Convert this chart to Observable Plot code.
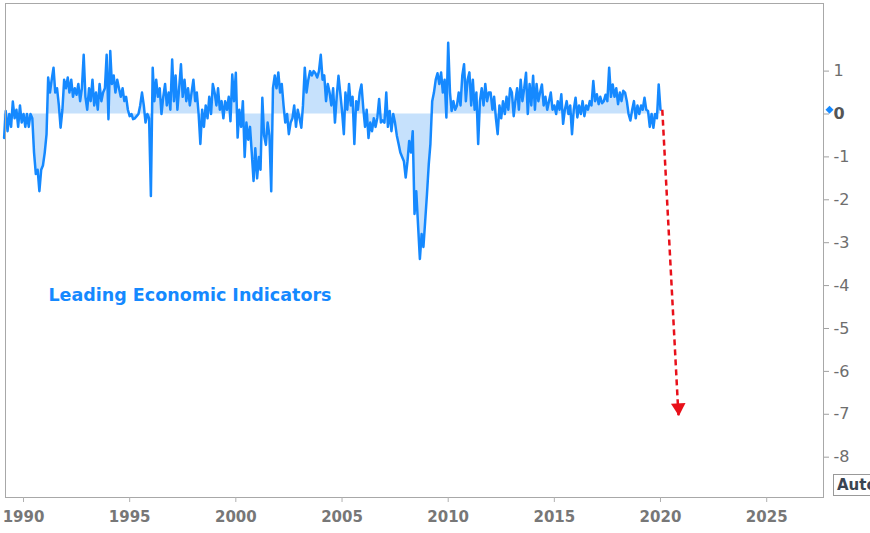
<!DOCTYPE html>
<html>
<head>
<meta charset="utf-8">
<script src="https://cdn.jsdelivr.net/npm/d3@7"></script>
<script src="https://cdn.jsdelivr.net/npm/@observablehq/plot@0.6"></script>
<style>
  body { margin: 0; background: #fff; }
  #wrap { position: relative; width: 870px; height: 533px; overflow: hidden; }
  #auto { position: absolute; left: 833px; top: 474px; border: 1px solid #999; font: bold 15px "DejaVu Sans", sans-serif; color: #3a4452; padding: 1px 3px; background: #fff; white-space: nowrap; }
</style>
</head>
<body>
<div id="wrap"></div>
<script>
// Monthly values starting February 1989
const startYear = 1989;
const startMonth = 1; // 0-based: February
const leiValues = [
  /*1989*/ -0.56, 0.07, -0.4, 0.0, -0.3, 0.29, -0.1, 0.1, -0.3, 0.2, -0.2,
  /*1990*/ 0.0, -0.3, 0.0, -0.3, 0.0, -0.1, -0.9, -1.4, -1.3, -1.8, -1.3, -1.2,
  /*1991*/ -0.9, -0.47, 0.85, 0.5, 0.8, 1.08, 0.5, 0.6, 0.2, -0.32, 0.1, 0.8,
  /*1992*/ 0.6, 0.85, 0.5, 0.8, 0.4, 0.6, 0.45, 0.7, 0.3, 0.6, 1.38, 0.4,
  /*1993*/ 0.1, 0.6, 0.3, 0.8, 0.2, 0.5, 0.1, 0.7, 0.3, 0.5, 0.6, 1.38,
  /*1994*/ -0.12, 1.47, 0.7, 0.9, 0.5, 0.8, 0.6, 0.4, 0.6, 0.3, 0.4, 0.1,
  /*1995*/ -0.05, 0.0, -0.12, -0.1, -0.05, 0.0, 0.2, 0.5, 0.2, -0.2, 0.0, -0.1,
  /*1996*/ -1.91, 1.08, 0.3, 0.8, 0.4, 0.6, 0.0, 0.4, 0.7, 0.2, 0.5, 0.1,
  /*1997*/ 1.27, 0.3, 0.9, 0.1, 0.6, 1.16, 0.4, 0.8, 0.3, 0.6, 0.2, 0.5,
  /*1998*/ 0.8, 0.3, 0.5, 0.0, -0.7, 0.1, -0.3, 0.2, -0.1, 0.4, 0.0, 0.7,
  /*1999*/ 0.5, 0.2, 0.6, 0.1, 0.3, -0.1, 0.3, 0.1, 0.4, -0.17, 0.92, 0.3,
  /*2000*/ 0.96, -0.55, 0.1, -0.3, 0.3, -1.0, -0.2, -0.6, -0.3, -0.9, -1.56, -0.8,
  /*2001*/ -1.5, -1.0, -1.3, 0.38, -0.5, -0.72, -0.2, -0.5, -1.8, 0.6, 0.9, 0.6,
  /*2002*/ 0.97, 0.5, 0.7, 0.2, -0.2, 0.0, -0.47, -0.2, -0.1, 0.2, -0.3, 0.1,
  /*2003*/ -0.1, -0.32, 0.2, 1.08, 0.5, 0.8, 1.0, 0.9, 1.0, 0.95, 0.85, 1.0,
  /*2004*/ 1.38, 0.8, 0.9, 0.3, 0.7, 0.5, 0.2, 0.6, -0.2, 0.4, 0.89, 0.5,
  /*2005*/ 0.07, -0.47, 0.5, 0.1, 0.7, 0.2, 0.4, -0.7, 0.3, 0.1, 0.5, 0.69,
  /*2006*/ 0.14, -0.3, 0.1, -0.56, -0.2, -0.4, -0.1, -0.3, -0.08, 0.35, -0.2, -0.15,
  /*2007*/ -0.2, 0.5, -0.3, 0.07, -0.4, 0.0, -0.2, -0.5, -0.7, -0.9, -1.0, -1.1,
  /*2008*/ -1.48, -1.1, -0.63, -0.9, -0.4, -2.33, -1.8, -2.6, -3.38, -2.8, -3.1, -2.5,
  /*2009*/ -1.87, -1.17, -0.7, 0.3, 0.5, 0.8, 0.95, 0.7, 0.97, 0.5, 0.8, -0.08,
  /*2010*/ 1.66, 0.5, 0.07, 0.3, 0.1, 0.2, 0.5, 0.2, 0.9, 1.16, 0.3, 0.8,
  /*2011*/ 0.97, 0.2, 0.8, 0.1, 0.5, -0.7, 0.3, 0.6, 0.2, 0.7, 0.3, 0.5,
  /*2012*/ 0.5, 0.1, 0.4, -0.1, -0.47, 0.2, -0.1, 0.3, 0.0, 0.4, 0.1, 0.6,
  /*2013*/ 0.5, -0.05, 0.3, 0.6, 0.1, 0.8, 0.3, 0.6, 0.96, 0.0, 0.7, 0.2,
  /*2014*/ 0.89, 0.1, 0.7, 0.3, 0.5, 0.69, 0.2, 0.4, 0.1, 0.3, 0.5, 0.1,
  /*2015*/ 0.2, 0.0, 0.3, 0.1, 0.46, -0.23, 0.1, 0.3, 0.0, 0.2, -0.47, 0.1,
  /*2016*/ 0.38, -0.08, 0.2, 0.0, 0.3, -0.05, 0.2, 0.1, 0.3, 0.2, 0.77, 0.3,
  /*2017*/ 0.46, 0.23, 0.4, 0.25, 0.3, 0.45, 0.3, 1.08, 0.4, 0.69, 0.4, 0.6,
  /*2018*/ 0.23, 0.5, 0.3, 0.54, 0.5, 0.3, 0.0, -0.15, 0.1, 0.3, -0.1, 0.2,
  /*2019*/ 0.0, 0.2, 0.1, 0.38, 0.1, 0.07, -0.3, 0.0, -0.32, 0.0, -0.1, 0.69,
  /*2020*/ 0.1
];
const xTickYears = [1990, 1995, 2000, 2005, 2010, 2015, 2020, 2025];
const yTicks = [1, 0, -1, -2, -3, -4, -5, -6, -7, -8];
const xDomain = ["1989-02-25", "2027-09-05"];
const yDomain = [-8.94, 2.576];
const seriesLabel = [{ text: "Leading Economic Indicators", date: "1991-03-05", value: -4.24 }];
const projection = [{ date1: "2020-02-01", value1: 0.1, date2: "2020-11-05", value2: -7.03 }];

const lineColor = "#1589ff";
const areaColor = "#c6e1fc";
const arrowColor = "#e8101a";

const data = leiValues.map((v, i) => ({ date: new Date(Date.UTC(startYear, startMonth + i, 1)), value: v }));
const last = data[data.length - 1];
const toDate = s => new Date(s + "T00:00:00Z");
const xd = xDomain.map(toDate);
const labels = seriesLabel.map(d => ({ ...d, date: toDate(d.date) }));
const arrows = projection.map(d => ({ x1: toDate(d.date1), y1: d.value1, x2: toDate(d.date2), y2: d.value2 }));
const fmt = d => d < 0 ? "-" + Math.abs(d) : String(d);

const chart = Plot.plot({
  width: 870,
  height: 533,
  marginLeft: 5,
  marginRight: 47,
  marginTop: 3,
  marginBottom: 36,
  style: { fontFamily: "DejaVu Sans, sans-serif", background: "#fff", overflow: "visible" },
  x: { type: "utc", domain: xd },
  y: { domain: yDomain },
  marks: [
    Plot.areaY(data, { x: "date", y1: 0, y2: "value", fill: areaColor }),
    Plot.lineY(data, { x: "date", y: "value", stroke: lineColor, strokeWidth: 2.5, strokeLinejoin: "round" }),
    Plot.frame({ stroke: "#a8a8a8" }),
    Plot.axisX({
      ticks: xTickYears.map(y => new Date(Date.UTC(y, 0, 1))),
      tickFormat: d => String(d.getUTCFullYear()),
      tickSize: 5, tickPadding: 9, fontSize: 15, fontWeight: "bold",
      fill: "#777", stroke: "#b0b0b0"
    }),
    Plot.axisY({
      anchor: "right", ticks: yTicks.filter(d => d !== 0), tickFormat: fmt,
      tickSize: 5, tickPadding: 5, fontSize: 16, fill: "#6e6e6e", stroke: "#a0a0a0"
    }),
    Plot.axisY({
      anchor: "right", ticks: yTicks.filter(d => d === 0), tickFormat: fmt,
      tickSize: 5, tickPadding: 5, fontSize: 16, fontWeight: "bold", fill: "#555", stroke: "#a0a0a0"
    }),
    Plot.dot([last], { x: () => xd[1], y: "value", dx: 6, symbol: "diamond2", r: 3.6, fill: lineColor, clip: false }),
    Plot.text(labels, { x: "date", y: "value", text: "text", textAnchor: "start", fontSize: 17.5, fontWeight: "bold", fill: lineColor }),
    Plot.link(arrows, { x1: "x1", y1: "y1", x2: "x2", y2: "y2", stroke: arrowColor, strokeWidth: 2.5, strokeDasharray: "6,4" }),
    Plot.dot(arrows, { x: "x2", y: "y2", symbol: "triangle", r: 5.4, fill: arrowColor, rotate: 177, dy: -8 })
  ]
});

const wrap = document.getElementById("wrap");
wrap.appendChild(chart);
const auto = document.createElement("div");
auto.id = "auto";
auto.textContent = "Auto";
wrap.appendChild(auto);
</script>
</body>
</html>
